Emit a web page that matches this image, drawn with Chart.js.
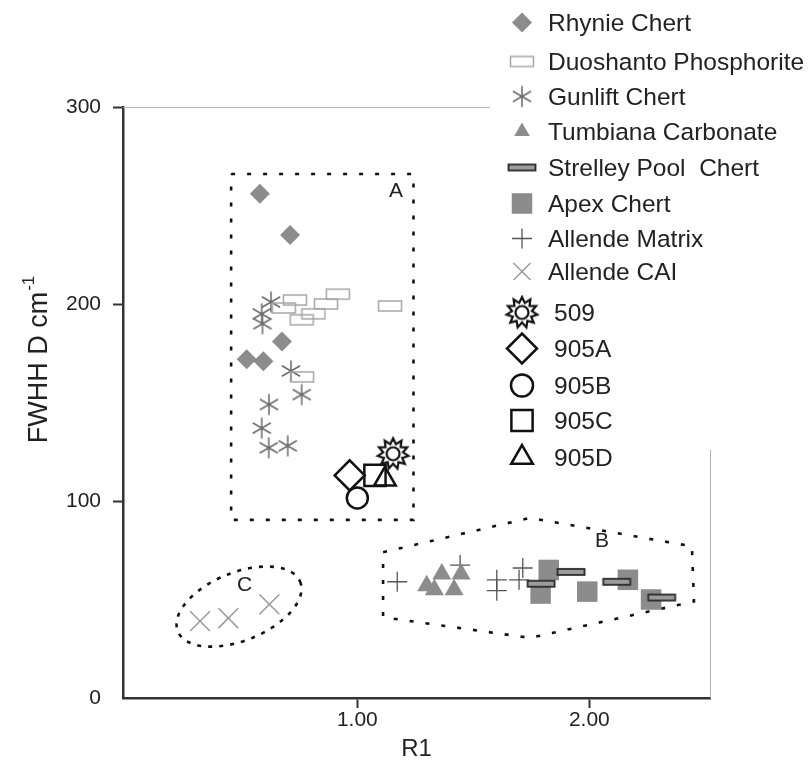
<!DOCTYPE html>
<html>
<head>
<meta charset="utf-8">
<script src="https://cdn.jsdelivr.net/npm/chart.js@4.4.0/dist/chart.umd.min.js"></script>
<style>
  body { margin: 0; background: #fff; }
  #wrap { width: 810px; height: 770px; position: relative; }
</style>
</head>
<body>
<div id="wrap"><canvas id="raman"></canvas></div>
<script>
Chart.defaults.font.family = "'Liberation Sans', Arial, sans-serif";
Chart.defaults.color = '#222';

// R1 / FWHH-D pairs
const rhynie = [[0.58, 256], [0.71, 235], [0.675, 181], [0.523, 172], [0.595, 171]];
const duoshanto = [[0.683, 198], [0.731, 202], [0.916, 205], [0.865, 200], [0.811, 195], [0.76, 192], [1.141, 199], [0.762, 163]];
const gunlift = [[0.628, 201], [0.588, 195], [0.591, 190], [0.714, 166], [0.76, 154], [0.619, 149], [0.588, 137], [0.618, 127], [0.7, 128]];
const tumbiana = [[1.299, 57], [1.364, 63], [1.332, 55], [1.417, 55], [1.447, 63]];
const strelley = [[1.792, 58], [1.921, 64], [2.118, 59], [2.312, 51]];
const apex = [[1.79, 53], [1.825, 65], [1.991, 54], [2.166, 60], [2.266, 50]];
const allendeMatrix = [[1.172, 59], [1.443, 67.5], [1.601, 60], [1.601, 54.5], [1.697, 60], [1.713, 66]];
const allendeCAI = [[0.322, 39], [0.444, 40.5], [0.621, 47.5]];
const s509 = [[1.154, 124]];
const s905A = [[0.967, 113]];
const s905B = [[1.0, 101.5]];
const s905C = [[1.076, 113]];
const s905D = [[1.119, 111]];

const xTicks = [1, 2];
const yTicks = [0, 100, 200, 300];

// outlines of groups A, B and C
const groupA = [[0.456, 266], [1.242, 266], [1.242, 90.4], [0.456, 90.4], [0.456, 266]];
const groupB = [[1.111, 74], [1.744, 91.4], [2.442, 77], [2.451, 49], [1.744, 30.5], [1.111, 41], [1.111, 74]];
const groupC = [0.49, 46.4];
const groupLabels = [['A', 1.167, 257.4], ['B', 2.055, 79.7], ['C', 0.514, 57.1]];

function pts(arr) {
    return arr.map((p) => ({x: p[0], y: p[1]}));
}

// little canvases used as point styles for the odd markers
function stamp(w, h, draw) {
    const c = document.createElement('canvas');
    c.width = w;
    c.height = h;
    draw(c.getContext('2d'), w / 2, h / 2);
    return c;
}

const openRect = stamp(26, 14, (g, cx, cy) => {
    g.strokeStyle = '#a6a6a6';
    g.lineWidth = 1.5;
    g.strokeRect(cx - 11.5, cy - 5, 23, 10);
});

const asterisk = stamp(26, 26, (g, cx, cy) => {
    g.strokeStyle = '#6a6a6a';
    g.lineWidth = 1.5;
    g.beginPath();
    for (let k = 0; k < 3; k++) {
        const a = Math.PI / 2 + k * Math.PI / 3;
        g.moveTo(cx - 10.5 * Math.cos(a), cy - 10.5 * Math.sin(a));
        g.lineTo(cx + 10.5 * Math.cos(a), cy + 10.5 * Math.sin(a));
    }
    g.stroke();
});

const bar = stamp(32, 10, (g, cx, cy) => {
    g.fillStyle = '#9c9c9c';
    g.fillRect(cx - 13.5, cy - 3, 27, 6);
    g.strokeStyle = '#2a2a2a';
    g.lineWidth = 1.8;
    g.strokeRect(cx - 13.5, cy - 3, 27, 6);
});

const sun = stamp(36, 36, (g, cx, cy) => {
    g.strokeStyle = '#111';
    g.lineWidth = 2.2;
    g.beginPath();
    const n = 11;
    for (let k = 0; k <= 2 * n; k++) {
        const r = k % 2 ? 10 : 15.5;
        const a = -Math.PI / 2 + k * Math.PI / n;
        if (k === 0) g.moveTo(cx + r * Math.cos(a), cy + r * Math.sin(a));
        else g.lineTo(cx + r * Math.cos(a), cy + r * Math.sin(a));
    }
    g.closePath();
    g.stroke();
    g.beginPath();
    g.arc(cx, cy, 6.5, 0, 2 * Math.PI);
    g.stroke();
});

const grey = '#8c8c8c';
const none = 'rgba(0,0,0,0)';

function marks(label, arr, style, radius, fill, line, width) {
    return {
        label: label,
        data: pts(arr),
        pointStyle: style,
        pointRadius: radius,
        pointBackgroundColor: fill,
        pointBorderColor: line,
        pointBorderWidth: width,
        showLine: false,
    };
}

function outline(arr) {
    return {
        label: '',
        data: pts(arr),
        showLine: true,
        pointRadius: 0,
        borderColor: '#111',
        borderWidth: 2.6,
        borderDash: [4, 12],
        tension: 0,
        fill: false,
        order: 50,
    };
}

const series = [
    marks('Rhynie Chert', rhynie, 'rectRot', 10, grey, grey, 0),
    marks('Duoshanto Phosphorite', duoshanto, openRect, 8, none, none, 0),
    marks('Gunlift Chert', gunlift, asterisk, 8, none, none, 0),
    marks('Tumbiana Carbonate', tumbiana, 'triangle', 11, grey, grey, 0),
    marks('Strelley Pool  Chert', strelley, bar, 8, none, none, 0),
    marks('Apex Chert', apex, 'rect', 14.5, grey, grey, 0),
    marks('Allende Matrix', allendeMatrix, 'cross', 10, none, '#555', 1.3),
    marks('Allende CAI', allendeCAI, 'crossRot', 14, none, '#9a9a9a', 1.5),
    marks('509', s509, sun, 8, none, none, 0),
    marks('905A', s905A, 'rectRot', 15, none, '#111', 2.5),
    marks('905B', s905B, 'circle', 10.5, none, '#111', 2.5),
    marks('905C', s905C, 'rect', 15, none, '#111', 2.5),
    marks('905D', s905D, 'triangle', 12.5, none, '#111', 2.5),
];

const legendBase = [31, 70, 105, 140, 176, 212, 247, 280, 321, 357, 394, 429, 466];

const decorations = {
    id: 'decorations',
    beforeDatasetsDraw(chart) {
        const ctx = chart.ctx;
        const xs = chart.scales.x;
        const ys = chart.scales.y;
        const area = chart.chartArea;
        ctx.save();
        // faint frame, cut off by the legend
        ctx.strokeStyle = '#b4b4b4';
        ctx.lineWidth = 1;
        ctx.beginPath();
        ctx.moveTo(area.left, area.top + 0.5);
        ctx.lineTo(490, area.top + 0.5);
        ctx.moveTo(area.right + 0.5, 450);
        ctx.lineTo(area.right + 0.5, area.bottom);
        ctx.stroke();
        // group C ellipse
        ctx.strokeStyle = '#111';
        ctx.lineWidth = 2.6;
        ctx.setLineDash([4, 7]);
        ctx.beginPath();
        ctx.ellipse(xs.getPixelForValue(groupC[0]), ys.getPixelForValue(groupC[1]), 66, 34, -22 * Math.PI / 180, 0, 2 * Math.PI);
        ctx.stroke();
        ctx.setLineDash([]);
        // group letters
        ctx.fillStyle = '#222';
        ctx.font = "21px 'Liberation Sans', Arial, sans-serif";
        ctx.textAlign = 'center';
        ctx.textBaseline = 'middle';
        groupLabels.forEach((g) => {
            ctx.fillText(g[0], xs.getPixelForValue(g[1]), ys.getPixelForValue(g[2]));
        });
        ctx.restore();
    },
    afterDraw(chart) {
        const ctx = chart.ctx;
        ctx.save();
        // y title with superscript
        ctx.translate(38, 360);
        ctx.rotate(-Math.PI / 2);
        ctx.fillStyle = '#222';
        ctx.textBaseline = 'alphabetic';
        ctx.font = "27px 'Liberation Sans', Arial, sans-serif";
        const main = 'FWHH D cm';
        const w1 = ctx.measureText(main).width;
        ctx.font = "17px 'Liberation Sans', Arial, sans-serif";
        const w2 = ctx.measureText('-1').width;
        const x0 = -(w1 + w2) / 2;
        ctx.font = "27px 'Liberation Sans', Arial, sans-serif";
        ctx.fillText(main, x0, 9);
        ctx.font = "17px 'Liberation Sans', Arial, sans-serif";
        ctx.fillText('-1', x0 + w1 + 1, -4);
        ctx.restore();

        // legend
        ctx.save();
        ctx.font = "24.5px 'Liberation Sans', Arial, sans-serif";
        ctx.textBaseline = 'alphabetic';
        ctx.textAlign = 'left';
        series.forEach((ds, i) => {
            const y = legendBase[i] - 8.5;
            ctx.fillStyle = ds.pointBackgroundColor;
            ctx.strokeStyle = ds.pointBorderColor;
            ctx.lineWidth = ds.pointBorderWidth;
            let r = ds.pointRadius;
            if (i === 3) r = 9;
            if (ds.pointStyle === 'crossRot') r = 12;
            if (ds.pointStyle === 'circle') r = 11;
            Chart.helpers.drawPoint(ctx, {pointStyle: ds.pointStyle, radius: r, rotation: 0, borderWidth: ds.pointBorderWidth}, 522, y);
            ctx.fillStyle = '#222';
            ctx.fillText(ds.label, i < 8 ? 548 : 554, legendBase[i]);
        });
        ctx.restore();
    }
};

new Chart(document.getElementById('raman'), {
    type: 'scatter',
    data: {
        datasets: series.concat([outline(groupA), outline(groupB)]),
    },
    options: {
        responsive: true,
        maintainAspectRatio: false,
        animation: false,
        events: [],
        layout: {
            padding: {top: 107, right: 100, left: 0, bottom: 0}
        },
        scales: {
            x: {
                type: 'linear',
                min: -0.01,
                max: 2.52,
                afterFit: (s) => { s.height = 72; },
                afterBuildTicks: (s) => { s.ticks = xTicks.map((v) => ({value: v})); },
                grid: {
                    drawOnChartArea: false,
                    drawTicks: true,
                    tickLength: 10,
                    tickWidth: 2,
                    tickColor: '#333',
                },
                border: {display: true, color: '#333', width: 2.5},
                ticks: {
                    padding: 0,
                    font: {size: 21},
                    color: '#222',
                    maxRotation: 0,
                    callback: (v) => v.toFixed(2),
                },
                title: {
                    display: true,
                    text: 'R1',
                    font: {size: 24},
                    color: '#222',
                    padding: {top: 0, bottom: 6},
                }
            },
            y: {
                min: 0,
                max: 300,
                afterFit: (s) => { s.width = 123; },
                afterBuildTicks: (s) => { s.ticks = yTicks.map((v) => ({value: v})); },
                grid: {
                    drawOnChartArea: false,
                    drawTicks: true,
                    tickLength: 10,
                    tickWidth: 2,
                    tickColor: (c) => (c.tick && c.tick.value === 0 ? 'rgba(0,0,0,0)' : '#333'),
                },
                border: {display: true, color: '#333', width: 2.5},
                ticks: {
                    padding: 12,
                    font: {size: 21},
                    color: '#222',
                },
            }
        },
        plugins: {
            legend: {display: false},
            tooltip: {enabled: false}
        }
    },
    plugins: [decorations]
});
</script>
</body>
</html>
